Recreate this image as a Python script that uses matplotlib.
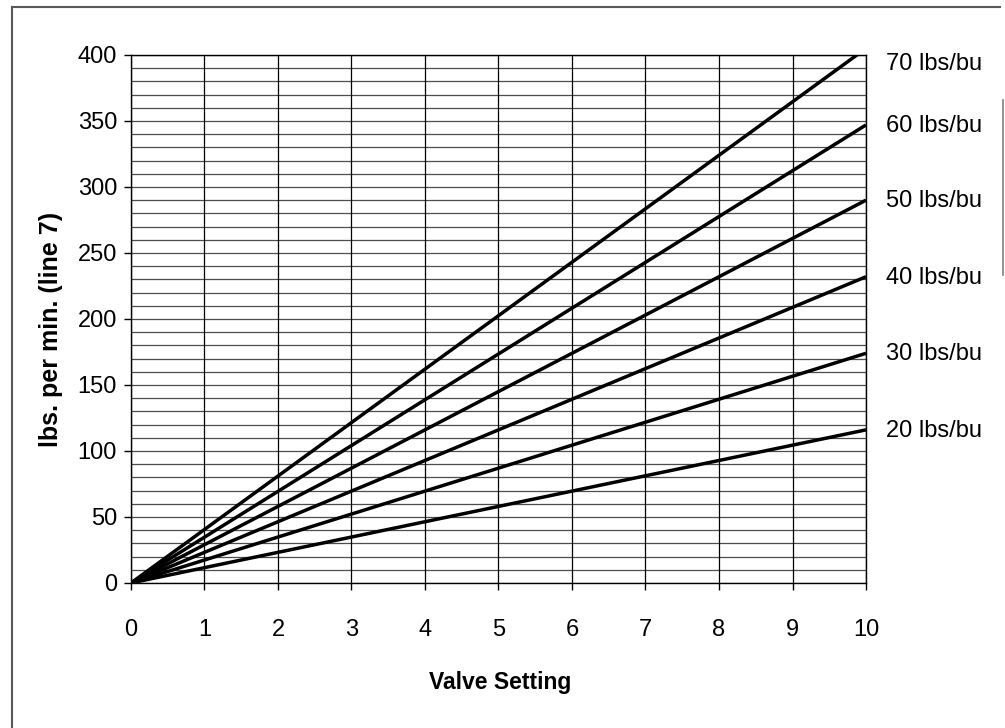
import matplotlib
matplotlib.use("Agg")
import matplotlib.pyplot as plt
from matplotlib.lines import Line2D
import numpy as np

# series: bushel weight -> lbs/min at valve setting 0 and 10
weights = [70, 60, 50, 40, 30, 20]
valve = [0, 10]
lbs_per_min = {
    70: [0, 405],
    60: [0, 347],
    50: [0, 290],
    40: [0, 232],
    30: [0, 174],
    20: [0, 116],
}
x_ticks = list(range(0, 11))
y_ticks = list(range(0, 401, 50))

plt.rcParams['font.family'] = ['Liberation Sans', 'DejaVu Sans']

fig = plt.figure(figsize=(10.05, 7.28), dpi=100)
ax = fig.add_axes([0.1303, 0.1992, 0.7314, 0.7253])

# grid
for v in range(0, 401, 10):
    ax.axhline(v, color='0.3', lw=0.9, zorder=1)
for v in x_ticks:
    ax.axvline(v, color='black', lw=0.9, zorder=1)

for w in weights:
    ax.plot(valve, lbs_per_min[w], color='black', lw=2.5, solid_capstyle='butt',
            zorder=3)
    ylab = min(lbs_per_min[w][-1], 394)
    ax.annotate(f"{w} lbs/bu", xy=(10, ylab), xytext=(20, -1),
                textcoords='offset pixels', va='center', ha='left',
                fontsize=17, annotation_clip=False)

ax.set_xlim(0, 10)
ax.set_ylim(0, 400)
ax.set_xticks(x_ticks)
ax.set_yticks(y_ticks)
ax.tick_params(axis='x', direction='out', length=5, width=1, pad=21,
               labelsize=17)
ax.tick_params(axis='y', direction='out', length=5, width=1, pad=5,
               labelsize=17)
for s in ax.spines.values():
    s.set_color('black')
    s.set_linewidth(1)

fig.text(0.4975, 1 - 682 / 728, "Valve Setting", ha='center', va='center',
         fontsize=16.5, fontweight='bold')
fig.text(51 / 1005, 1 - 329 / 728, "lbs. per min. (line 7)", ha='center',
         va='center', rotation=90, fontsize=18, fontweight='bold')

# scanned page border
fig.add_artist(Line2D([12 / 1005, 12 / 1005], [0, 1 - 7 / 728],
                      transform=fig.transFigure, color='0.35', lw=1.5))
fig.add_artist(Line2D([12 / 1005, 1000 / 1005], [1 - 7 / 728, 1 - 7 / 728],
                      transform=fig.transFigure, color='0.35', lw=1.5))
fig.add_artist(Line2D([1003 / 1005, 1003 / 1005], [1 - 100 / 728, 1 - 275 / 728],
                      transform=fig.transFigure, color='0.5', lw=1.2))

fig.savefig("out.png", dpi=100)
